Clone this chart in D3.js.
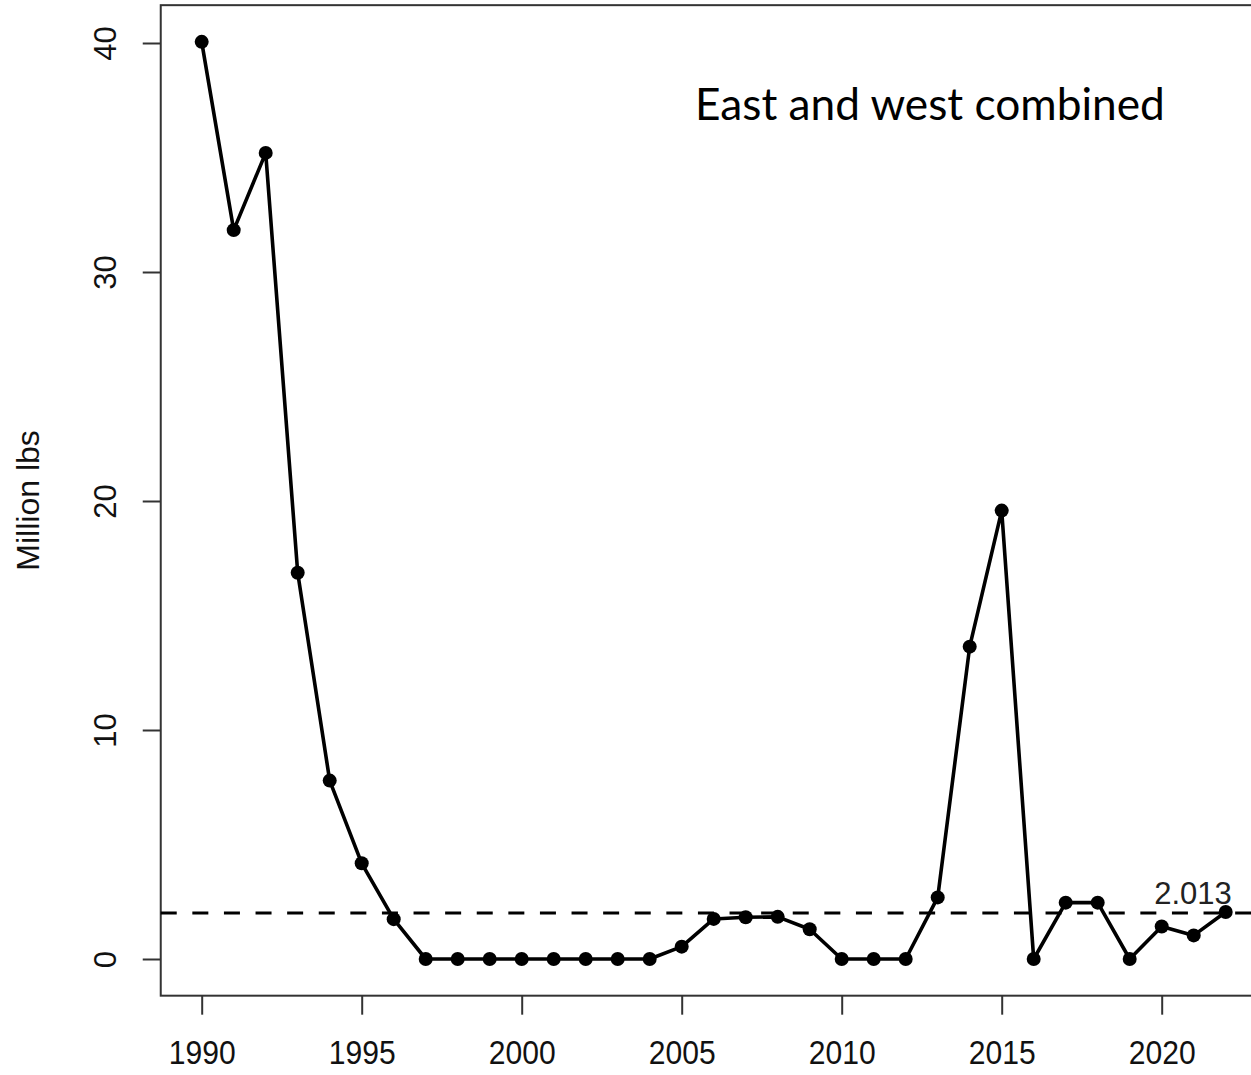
<!DOCTYPE html>
<html><head><meta charset="utf-8">
<script src="https://cdn.jsdelivr.net/npm/d3@7"></script>
<style>html,body{margin:0;padding:0;background:#fff;overflow:hidden}</style>
</head><body>
<svg id="chart" width="1251" height="1075"></svg>
<script>
const years = [1990,1991,1992,1993,1994,1995,1996,1997,1998,1999,2000,2001,2002,2003,2004,2005,2006,2007,2008,2009,2010,2011,2012,2013,2014,2015,2016,2017,2018,2019,2020,2021,2022];
const values = [40.05,31.83,35.2,16.87,7.79,4.18,1.74,0,0,0,0,0,0,0,0,0.54,1.75,1.82,1.84,1.3,0,0,0,2.69,13.64,19.58,0,2.46,2.46,0,1.42,1.03,2.05];
const xTicks = [1990,1995,2000,2005,2010,2015,2020];
const yTicks = [0,10,20,30,40];
const refValue = 2.013;
const refLabel = "2.013";
const title = "East and west combined";
const yLabel = "Million lbs";

const svg = d3.select("#chart");
const x = d3.scaleLinear().domain([1990, 2020]).range([201.7, 1161.7]);
const y = d3.scaleLinear().domain([0, 40]).range([959, 43]);
const xPad = (d3.max(years) - d3.min(years)) * 0.04;
const yPad = (d3.max(values) - d3.min(values)) * 0.04;
const x0 = x(d3.min(years) - xPad), x1 = x(d3.max(years) + xPad);
const y0 = y(d3.min(values) - yPad), y1 = y(d3.max(values) + yPad);

const font = "'Liberation Sans', Arial, sans-serif";
const axisColor = "#333";

// plot box
svg.append("rect").attr("x", x0).attr("y", y1).attr("width", x1 - x0).attr("height", y0 - y1)
  .attr("fill", "none").attr("stroke", axisColor).attr("stroke-width", 2);

// x axis
const xAxis = d3.axisBottom(x).tickValues(xTicks).tickFormat(d3.format("d")).tickSize(19).tickSizeOuter(0);
const gx = svg.append("g").attr("transform", `translate(0,${y0})`).call(xAxis);
gx.select(".domain").remove();
gx.selectAll(".tick line").attr("stroke", axisColor).attr("stroke-width", 2);
gx.selectAll(".tick text").attr("font-family", font).attr("font-size", 31).attr("fill", "#111")
  .attr("y", 0).attr("dy", 0).attr("transform", "translate(0,68) scale(0.97,1.05)");

// y axis
const yAxis = d3.axisLeft(y).tickValues(yTicks).tickFormat(d3.format("d")).tickSize(18).tickSizeOuter(0);
const gy = svg.append("g").attr("transform", `translate(${x0},0)`).call(yAxis);
gy.select(".domain").remove();
gy.selectAll(".tick line").attr("stroke", axisColor).attr("stroke-width", 2);
gy.selectAll(".tick text").attr("font-family", font).attr("font-size", 31).attr("fill", "#111")
  .attr("x", 0).attr("dy", 0).attr("text-anchor", "middle")
  .attr("transform", "translate(-45,0) rotate(-90)");

// y label
svg.append("text").attr("transform", `translate(39,${(y0 + y1) / 2}) rotate(-90)`)
  .attr("text-anchor", "middle").attr("font-family", font).attr("font-size", 32).attr("fill", "#111")
  .text(yLabel);

// reference dashed line
svg.append("line").attr("x1", x0).attr("x2", 1251).attr("y1", y(refValue)).attr("y2", y(refValue))
  .attr("stroke", "#000").attr("stroke-width", 3).attr("stroke-dasharray", "16,15.6");
svg.append("text").attr("x", 1193).attr("y", y(refValue) - 9).attr("text-anchor", "middle")
  .attr("font-family", font).attr("font-size", 31).attr("fill", "#222").text(refLabel);

// line + points
const data = years.map((yr, i) => ({yr, v: values[i]}));
svg.append("path").datum(data)
  .attr("d", d3.line().x(d => x(d.yr)).y(d => y(d.v)))
  .attr("fill", "none").attr("stroke", "#000").attr("stroke-width", 3.6).attr("stroke-linejoin", "round");
svg.selectAll("circle.pt").data(data).join("circle").attr("class", "pt")
  .attr("cx", d => x(d.yr)).attr("cy", d => y(d.v)).attr("r", 7).attr("fill", "#000");

// title
const t = svg.append("text").attr("x", 695).attr("y", 120)
  .attr("font-family", "Lato, 'Open Sans', sans-serif").attr("font-size", 40).attr("fill", "#000").text(title);
const w = t.node().getComputedTextLength();
t.attr("font-size", 40 * 470 / w);
</script>
</body></html>
